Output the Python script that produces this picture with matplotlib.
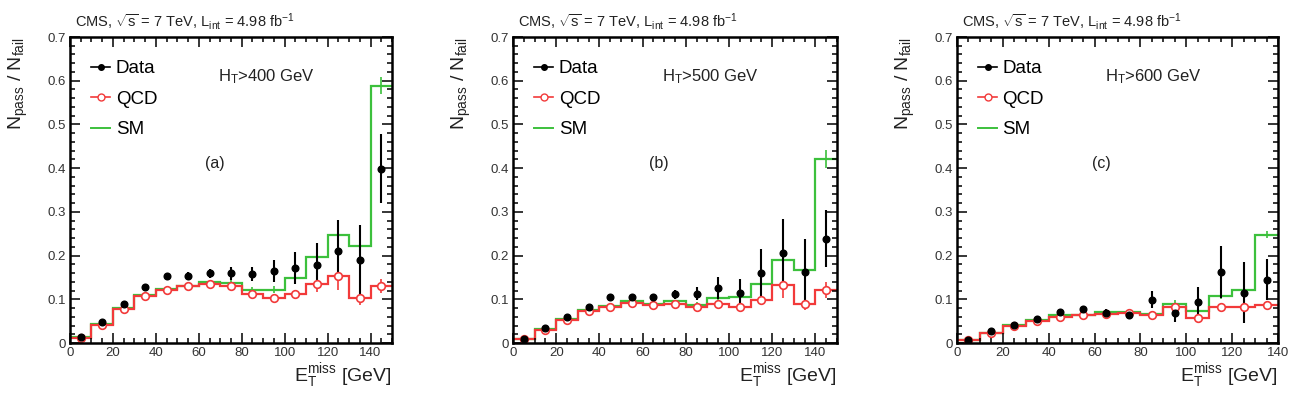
import numpy as np
import matplotlib.pyplot as plt

plt.rcParams['font.family'] = ['Liberation Sans', 'DejaVu Sans']
plt.rcParams['mathtext.fontset'] = 'custom'
plt.rcParams['mathtext.rm'] = 'Liberation Sans'
plt.rcParams['mathtext.it'] = 'Liberation Sans:italic'

# bin edges (GeV)
edges_ab = np.arange(0, 151, 10)
edges_c = np.arange(0, 141, 10)

# panel (a) HT>400
data_a = [0.014, 0.047, 0.089, 0.128, 0.153, 0.154, 0.159, 0.159, 0.157, 0.164, 0.172, 0.179, 0.211, 0.189, 0.399]
data_a_err = [0.004, 0.005, 0.006, 0.007, 0.008, 0.009, 0.010, 0.015, 0.016, 0.025, 0.037, 0.05, 0.07, 0.08, 0.078]
qcd_a = [0.011, 0.041, 0.078, 0.108, 0.122, 0.130, 0.134, 0.131, 0.111, 0.102, 0.111, 0.136, 0.153, 0.102, 0.131]
qcd_a_err = [0.002, 0.002, 0.003, 0.003, 0.004, 0.004, 0.005, 0.006, 0.007, 0.008, 0.01, 0.02, 0.032, 0.015, 0.016]
sm_a = [0.014, 0.044, 0.079, 0.110, 0.124, 0.131, 0.139, 0.137, 0.122, 0.122, 0.149, 0.197, 0.248, 0.223, 0.589]
sm_a_err = [0.001, 0.002, 0.002, 0.003, 0.003, 0.003, 0.004, 0.006, 0.007, 0.008, 0.008, 0.01, 0.01, 0.01, 0.02]

# panel (b) HT>500
data_b = [0.009, 0.034, 0.060, 0.082, 0.105, 0.105, 0.105, 0.111, 0.113, 0.126, 0.115, 0.159, 0.205, 0.162, 0.239]
data_b_err = [0.003, 0.004, 0.005, 0.006, 0.007, 0.008, 0.008, 0.011, 0.015, 0.025, 0.032, 0.055, 0.078, 0.075, 0.065]
qcd_b = [0.009, 0.029, 0.052, 0.073, 0.082, 0.092, 0.088, 0.090, 0.082, 0.090, 0.082, 0.098, 0.132, 0.090, 0.121]
qcd_b_err = [0.002, 0.002, 0.003, 0.003, 0.003, 0.004, 0.004, 0.005, 0.006, 0.007, 0.008, 0.012, 0.03, 0.015, 0.018]
sm_b = [0.009, 0.032, 0.055, 0.076, 0.085, 0.095, 0.090, 0.095, 0.088, 0.102, 0.105, 0.136, 0.189, 0.166, 0.421]
sm_b_err = [0.001, 0.002, 0.002, 0.002, 0.003, 0.003, 0.003, 0.004, 0.005, 0.006, 0.006, 0.008, 0.01, 0.01, 0.02]

# panel (c) HT>600
data_c = [0.006, 0.027, 0.042, 0.056, 0.071, 0.078, 0.069, 0.065, 0.099, 0.069, 0.093, 0.163, 0.115, 0.145]
data_c_err = [0.003, 0.004, 0.005, 0.006, 0.006, 0.007, 0.008, 0.01, 0.02, 0.02, 0.036, 0.06, 0.07, 0.047]
qcd_c = [0.008, 0.023, 0.040, 0.050, 0.059, 0.065, 0.066, 0.069, 0.063, 0.082, 0.057, 0.082, 0.082, 0.088]
qcd_c_err = [0.002, 0.002, 0.002, 0.003, 0.003, 0.003, 0.004, 0.004, 0.005, 0.006, 0.006, 0.007, 0.008, 0.008]
sm_c = [0.008, 0.024, 0.042, 0.052, 0.063, 0.065, 0.070, 0.070, 0.067, 0.090, 0.073, 0.107, 0.122, 0.248]
sm_c_err = [0.001, 0.001, 0.002, 0.002, 0.002, 0.003, 0.003, 0.003, 0.004, 0.008, 0.005, 0.006, 0.006, 0.008]

panels = [
    ("(a)", r"H$_{\rm T}$>400 GeV", edges_ab, data_a, data_a_err, qcd_a, qcd_a_err, sm_a, sm_a_err),
    ("(b)", r"H$_{\rm T}$>500 GeV", edges_ab, data_b, data_b_err, qcd_b, qcd_b_err, sm_b, sm_b_err),
    ("(c)", r"H$_{\rm T}$>600 GeV", edges_c, data_c, data_c_err, qcd_c, qcd_c_err, sm_c, sm_c_err),
]

green = '#3cc03c'
red = '#f23a3a'

W, H = 1302, 398
fig = plt.figure(figsize=(W / 100, H / 100), dpi=100)
lefts = [70, 513, 957]
widths = [322, 324, 321]
top, bottom = 37, 343

for (tag, ht, edges, d, de, q, qe, s, se), l, w in zip(panels, lefts, widths):
    ax = fig.add_axes([l / W, 1 - bottom / H, w / W, (bottom - top) / H])
    centers = (edges[:-1] + edges[1:]) / 2

    ax.stairs(s, edges, color=green, lw=1.6, baseline=None)
    ax.errorbar(centers, s, yerr=se, fmt='none', ecolor=green, elinewidth=1.2)
    ax.stairs(q, edges, color=red, lw=1.6, baseline=None)
    ax.errorbar(centers, q, yerr=qe, fmt='o', color=red, mfc='white', mec=red,
                ms=5.5, mew=1.2, elinewidth=1.2)
    ax.errorbar(centers, d, yerr=de, fmt='o', color='black', ms=4.8, elinewidth=1.5)

    # legend handles
    ax.plot([], [], color='black', marker='o', ms=4, lw=1.2, label='Data')
    ax.plot([], [], color=red, marker='o', mfc='white', mec=red, ms=5, lw=1.2, label='QCD')
    ax.plot([], [], color=green, lw=1.4, label='SM')
    hs, ls = ax.get_legend_handles_labels()
    ax.legend(hs[-3:], ls[-3:], loc='upper left', bbox_to_anchor=(0.066, 0.925),
              frameon=False, fontsize=13.5, handlelength=1.0, handletextpad=0.3,
              labelspacing=0.72, borderaxespad=0, borderpad=0)

    ax.set_xlim(edges[0], edges[-1])
    ax.set_ylim(0, 0.7)
    ax.set_xticks(np.arange(0, edges[-1] + 1, 20))
    ax.set_xticks(np.arange(0, edges[-1] + 1, 5), minor=True)
    ax.set_yticks(np.arange(0, 0.71, 0.1))
    ax.set_yticks(np.arange(0, 0.701, 0.02), minor=True)
    ax.set_yticklabels(['0', '0.1', '0.2', '0.3', '0.4', '0.5', '0.6', '0.7'])
    ax.tick_params(which='both', direction='in', top=True, right=True,
                   labelsize=9.5, labelcolor='#333333', width=1.1)
    ax.tick_params(which='major', length=7, pad=3)
    ax.tick_params(which='minor', length=3.5)
    for sp in ax.spines.values():
        sp.set_linewidth(1.8)

    ax.text(0.016, 1.05, r'CMS, $\sqrt{\rm s}$ = 7 TeV, L$_{\rm int}$ = 4.98 fb$^{-1}$',
            transform=ax.transAxes, ha='left', va='center', fontsize=10.5, color='#222222')
    ax.text(0.46, 0.87, ht, transform=ax.transAxes, ha='left', va='center',
            fontsize=12, color='#222222')
    ax.text(0.45, 0.585, tag, transform=ax.transAxes, ha='center', va='center',
            fontsize=11.5, color='#222222')
    ax.text(-0.16, 1.0, r'N$_{\rm pass}$ / N$_{\rm fail}$', transform=ax.transAxes,
            rotation=90, ha='center', va='top', fontsize=14, color='#222222')
    ax.text(1.0, -0.105, r'E$_{\rm T}^{\rm miss}$ [GeV]', transform=ax.transAxes,
            ha='right', va='center', fontsize=14, color='#222222')

fig.savefig('out.png', dpi=100)
